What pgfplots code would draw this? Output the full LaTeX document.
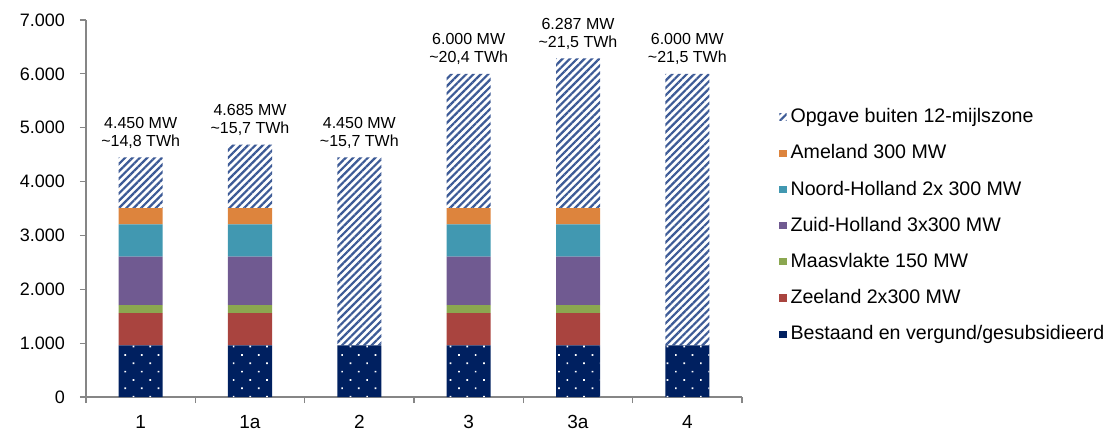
\documentclass[border=0pt]{standalone}
\usepackage{pgfplots}
\pgfplotsset{compat=1.18}
\usepackage{fontspec}
\setmainfont{Liberation Sans}
\usetikzlibrary{patterns.meta}
\definecolor{cNavy}{HTML}{002060}
\definecolor{cRed}{HTML}{A9443F}
\definecolor{cGreen}{HTML}{8BA750}
\definecolor{cPurple}{HTML}{705A91}
\definecolor{cTeal}{HTML}{4198B1}
\definecolor{cOrange}{HTML}{DD843D}
\definecolor{cHatch}{HTML}{3C5A96}
\definecolor{axisgray}{HTML}{868686}
\pgfplotsset{
  myleg/.style={legend image code/.code={\fill[##1] (0pt,-1.8pt) rectangle (3.6pt,1.8pt);}},
  mybox/.style={at={(43pt,16.5pt)}, anchor=south west,
    scale only axis, width=328pt, height=188.5pt,
    xmin=-0.5, xmax=5.5, ymin=0, ymax=7000, clip=false},
}
\begin{document}
\begin{tikzpicture}
\path[use as bounding box] (0pt,0pt) rectangle (554pt,215pt);
\begin{axis}[
  mybox,
  ybar stacked, bar width=22pt,
  axis lines*=left,
  axis line style={draw=axisgray, line width=0.6pt},
  every tick/.style={draw=axisgray, line width=0.6pt},
  tick align=outside,
  xtick={-0.5,0.5,...,5.5}, xticklabels={},
  major tick length=3pt,
  extra x ticks={0,1,2,3,4,5},
  extra x tick labels={1,1a,2,3,3a,4},
  extra x tick style={major tick length=0pt, xticklabel style={yshift=-5.5pt}},
  ytick={0,1000,2000,3000,4000,5000,6000,7000},
  yticklabels={0,1.000,2.000,3.000,4.000,5.000,6.000,7.000},
  yticklabel style={xshift=-4pt, font=\fontsize{9}{11}\selectfont},
  xticklabel style={font=\fontsize{9.5}{11}\selectfont},
  ticklabel style={text=black},
  reverse legend,
  legend cell align=left,
  legend style={at={(1.057,0.776)}, anchor=north west, draw=none, fill=none,
    font=\fontsize{9.8}{11}\selectfont, row sep=5.5pt, inner sep=0pt, outer sep=0pt},
]
\addplot+[draw=none, fill=cNavy, postaction={pattern={Dots[angle=45,distance=5.9pt,radius=0.6pt]}, pattern color=white}, myleg]
  coordinates {(0,957) (1,957) (2,957) (3,957) (4,957) (5,957)};
\addlegendentry{Bestaand en vergund/gesubsidieerd}
\addplot+[draw=none, fill=cRed, myleg]
  coordinates {(0,600) (1,600) (2,0) (3,600) (4,600) (5,0)};
\addlegendentry{Zeeland 2x300 MW}
\addplot+[draw=none, fill=cGreen, myleg]
  coordinates {(0,150) (1,150) (2,0) (3,150) (4,150) (5,0)};
\addlegendentry{Maasvlakte 150 MW}
\addplot+[draw=none, fill=cPurple, myleg]
  coordinates {(0,900) (1,900) (2,0) (3,900) (4,900) (5,0)};
\addlegendentry{Zuid-Holland 3x300 MW}
\addplot+[draw=none, fill=cTeal, myleg]
  coordinates {(0,600) (1,600) (2,0) (3,600) (4,600) (5,0)};
\addlegendentry{Noord-Holland 2x 300 MW}
\addplot+[draw=none, fill=cOrange, myleg]
  coordinates {(0,300) (1,300) (2,0) (3,300) (4,300) (5,0)};
\addlegendentry{Ameland 300 MW}
\addplot+[draw=none, fill=white, postaction={pattern={Lines[angle=45,distance=2.6pt,line width=1.1pt]}, pattern color=cHatch}, myleg]
  coordinates {(0,943) (1,1178) (2,3493) (3,2493) (4,2780) (5,5043)};
\addlegendentry{Opgave buiten 12-mijlszone}
\end{axis}
\begin{axis}[mybox, hide axis]
\addplot[draw=none, mark=none,
  nodes near coords, point meta=explicit symbolic,
  every node near coord/.append style={font=\fontsize{8}{9}\selectfont, align=center, text=black, anchor=south, yshift=1pt}]
  coordinates {
    (0,4450) [4.450 MW\\\textasciitilde14,8 TWh]
    (1,4685) [4.685 MW\\\textasciitilde15,7 TWh]
    (2,4450) [4.450 MW\\\textasciitilde15,7 TWh]
    (3,6000) [6.000 MW\\\textasciitilde20,4 TWh]
    (4,6287) [6.287 MW\\\textasciitilde21,5 TWh]
    (5,6000) [6.000 MW\\\textasciitilde21,5 TWh]
  };
\end{axis}
\end{tikzpicture}
\end{document}
